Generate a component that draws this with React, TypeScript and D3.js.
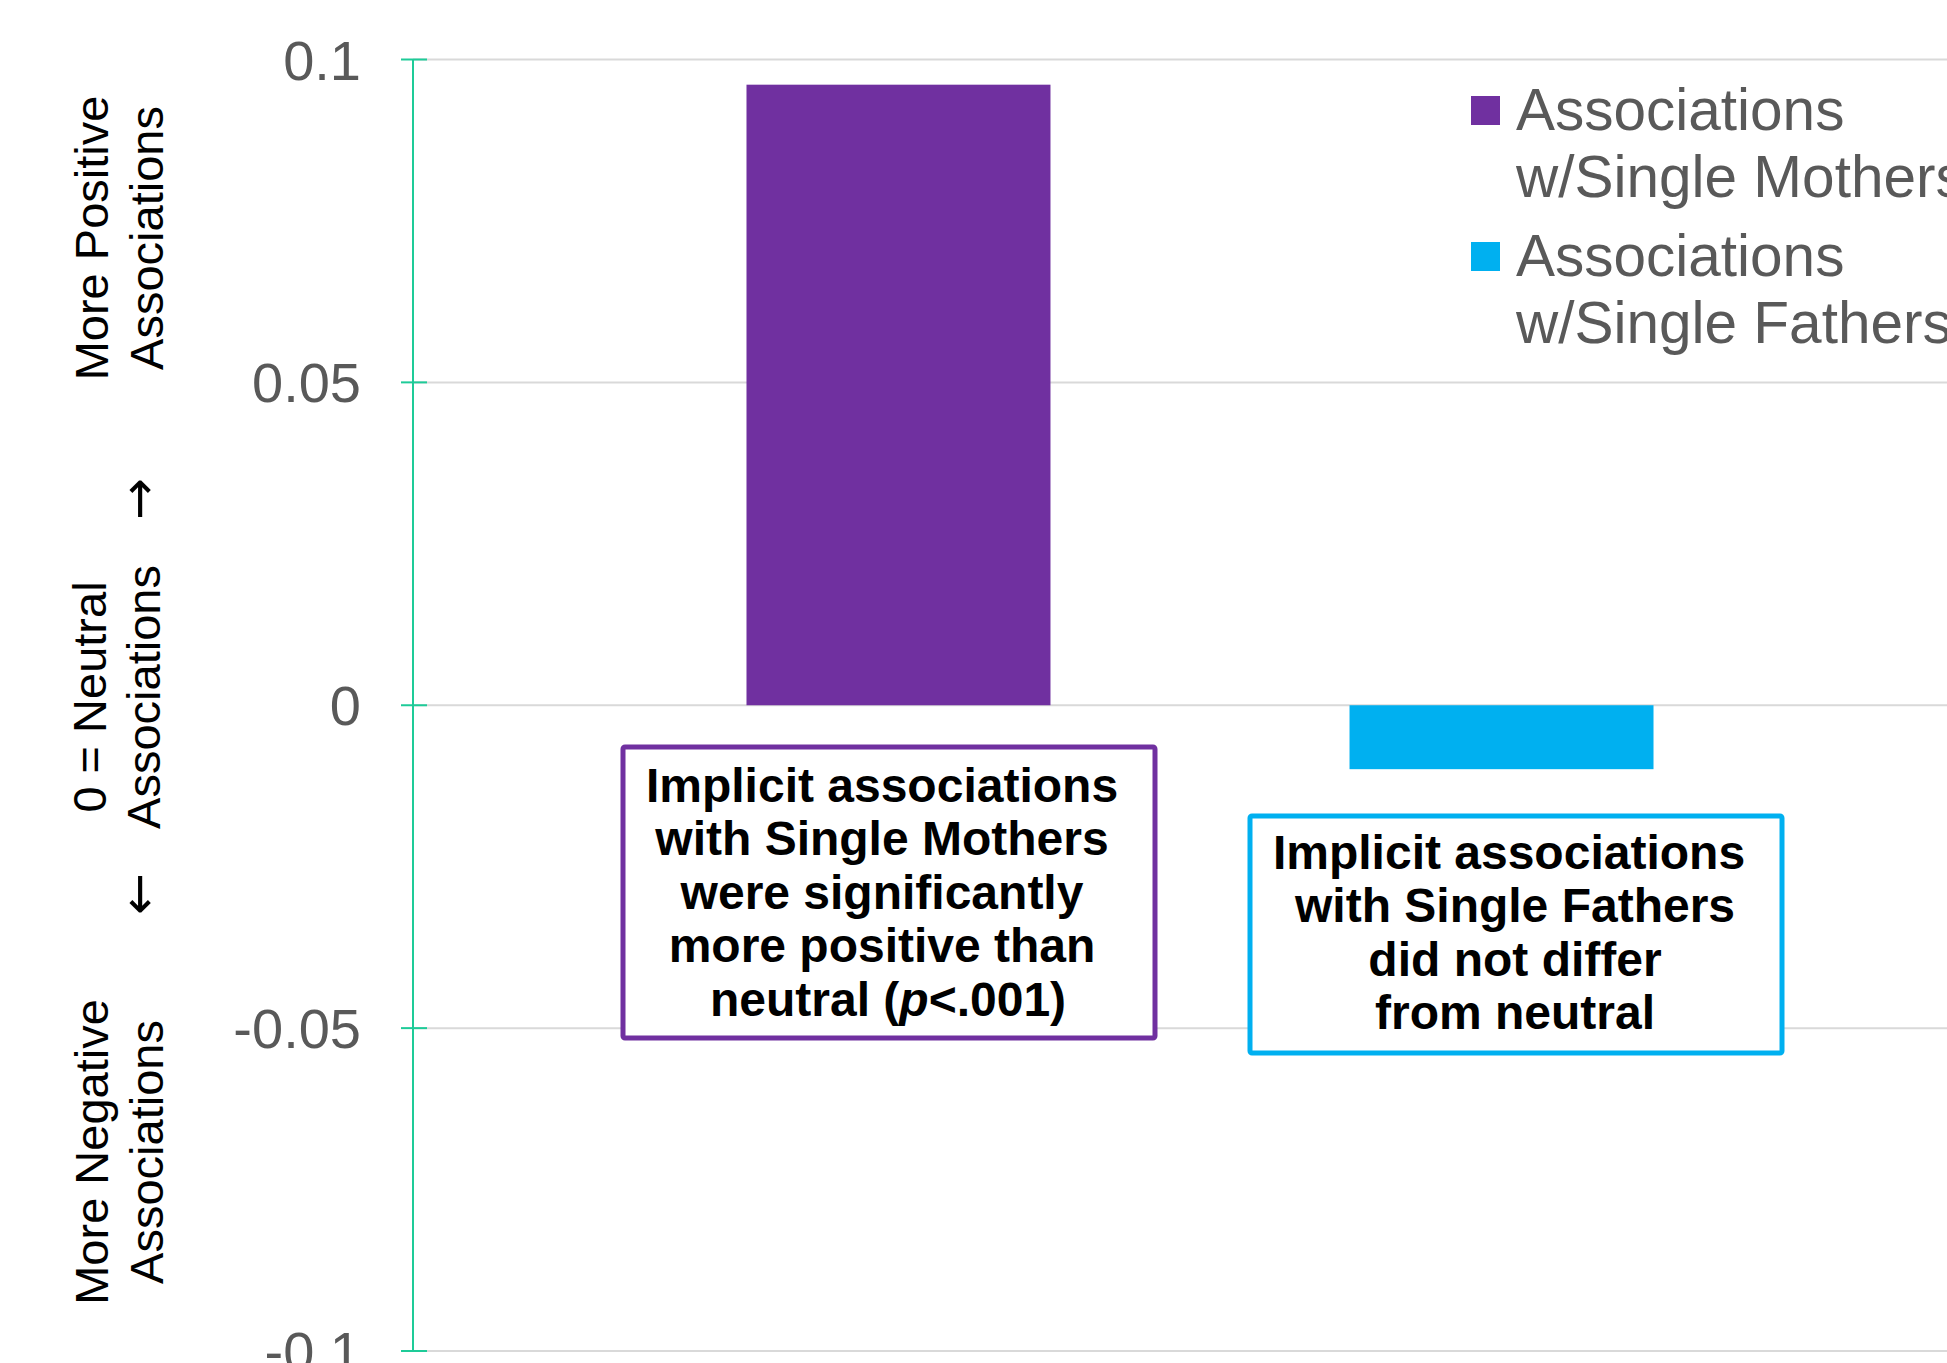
import React from "react";
import * as d3 from "d3";

const categories = ["Single Parents"];
const seriesNames = ["Associations w/Single Mothers", "Associations w/Single Fathers"];
const seriesValues = [0.0961, -0.0099];
const seriesColors = ["#7030A0", "#00B0F0"];
const yTicks = [-0.1, -0.05, 0, 0.05, 0.1];
const legendLines = [
  ["Associations", "w/Single Mothers"],
  ["Associations", "w/Single Fathers"],
];
const sideTitles = [
  ["More Positive", "Associations"],
  ["0 = Neutral", "Associations"],
  ["More Negative", "Associations"],
];
const annotationMothers = [
  "Implicit associations",
  "with Single Mothers",
  "were significantly",
  "more positive than",
];
const annotationFathers = [
  "Implicit associations",
  "with Single Fathers",
  "did not differ",
  "from neutral",
];

const W = 1947;
const H = 1363;
const FONT = "'Liberation Sans', Arial, Helvetica, sans-serif";
const ARROW_FONT = "'DejaVu Sans', 'Noto Sans', sans-serif";

export default function App() {
  const y = d3.scaleLinear().domain([-0.1, 0.1]).range([1351, 59.5]);
  const axisX = 413;
  const xCat = d3.scaleBand<string>().domain(categories).range([axisX, 1987]);
  const cw = xCat.bandwidth();
  const cx = (xCat(categories[0]) as number) + cw / 2;
  const half = cw * 0.3831;
  const xSer = d3
    .scaleBand<string>()
    .domain(seriesNames)
    .range([cx - half, cx + half])
    .paddingInner(0.4959)
    .paddingOuter(0.2479);

  const titleCenters = [238, 697, 1152];
  const line1X = [108, 106, 108];
  const line2X = [163, 160, 163];

  return (
    <svg
      width={W}
      height={H}
      style={{ position: "absolute", left: 0, top: 0, background: "#fff" }}
      fontFamily={FONT}
    >
      <rect x={0} y={0} width={W} height={H} fill="#fff" />
      {/* gridlines */}
      {yTicks.map((t) => (
        <line
          key={"g" + t}
          x1={axisX}
          x2={W}
          y1={y(t)}
          y2={y(t)}
          stroke="#d9d9d9"
          strokeWidth={2}
        />
      ))}
      {/* bars */}
      {seriesNames.map((s, i) => {
        const v = seriesValues[i];
        return (
          <rect
            key={s}
            x={xSer(s) as number}
            width={xSer.bandwidth()}
            y={y(Math.max(0, v))}
            height={Math.abs(y(v) - y(0))}
            fill={seriesColors[i]}
          />
        );
      })}
      {/* axis */}
      <line x1={axisX} x2={axisX} y1={y(0.1)} y2={y(-0.1)} stroke="#1ECB98" strokeWidth={2} />
      {yTicks.map((t) => (
        <g key={"t" + t}>
          <line x1={axisX - 12} x2={axisX + 14} y1={y(t)} y2={y(t)} stroke="#1ECB98" strokeWidth={2} />
          <text
            x={361}
            y={y(t)}
            dy="0.358em"
            textAnchor="end"
            fontSize={56}
            fill="#595959"
          >
            {String(t)}
          </text>
        </g>
      ))}
      {/* side titles */}
      {sideTitles.map((lines, gi) => (
        <g key={"st" + gi}>
          <text
            transform={`translate(${line1X[gi]},${titleCenters[gi]}) rotate(-90)`}
            textAnchor="middle"
            fontSize={47}
            fill="#000"
          >
            {lines[0]}
          </text>
          <text
            transform={`translate(${line2X[gi]},${titleCenters[gi]}) rotate(-90)`}
            textAnchor="middle"
            fontSize={47}
            fill="#000"
          >
            {lines[1]}
          </text>
          {gi === 1 && (
            <>
              <text
                transform={`translate(${line2X[gi] - 4},${titleCenters[gi] - 198}) rotate(-90)`}
                textAnchor="middle"
                fontFamily={ARROW_FONT}
                fontSize={50}
                fill="#000"
              >
                →
              </text>
              <text
                transform={`translate(${line2X[gi] - 4},${titleCenters[gi] + 197}) rotate(-90)`}
                textAnchor="middle"
                fontFamily={ARROW_FONT}
                fontSize={50}
                fill="#000"
              >
                ←
              </text>
            </>
          )}
        </g>
      ))}
      {/* legend */}
      {legendLines.map((lines, i) => (
        <g key={"lg" + i}>
          <rect x={1471} y={96 + i * 146} width={29} height={29} fill={seriesColors[i]} />
          <text x={1516} y={130 + i * 146} fontSize={58.5} fill="#595959">
            {lines[0]}
          </text>
          <text x={1516} y={197 + i * 146} fontSize={58.5} fill="#595959">
            {lines[1]}
          </text>
        </g>
      ))}
      {/* annotation boxes */}
      <rect x={623} y={747} width={532} height={291} rx={2} fill="#fff" stroke="#7030A0" strokeWidth={5} />
      {annotationMothers.map((l, i) => (
        <text
          key={"am" + i}
          x={882}
          y={802 + i * 53.4}
          textAnchor="middle"
          fontSize={48}
          fontWeight="bold"
          fill="#000"
        >
          {l}
        </text>
      ))}
      <text x={888} y={802 + 4 * 53.4} textAnchor="middle" fontSize={48} fontWeight="bold" fill="#000">
        neutral (<tspan fontStyle="italic">p</tspan>&lt;.001)
      </text>
      <rect x={1250} y={816} width={532} height={237} rx={2} fill="#fff" stroke="#00B0F0" strokeWidth={5} />
      {annotationFathers.map((l, i) => (
        <text
          key={"af" + i}
          x={i === 0 ? 1509 : 1515}
          y={869 + i * 53.4}
          textAnchor="middle"
          fontSize={48}
          fontWeight="bold"
          fill="#000"
        >
          {l}
        </text>
      ))}
    </svg>
  );
}
